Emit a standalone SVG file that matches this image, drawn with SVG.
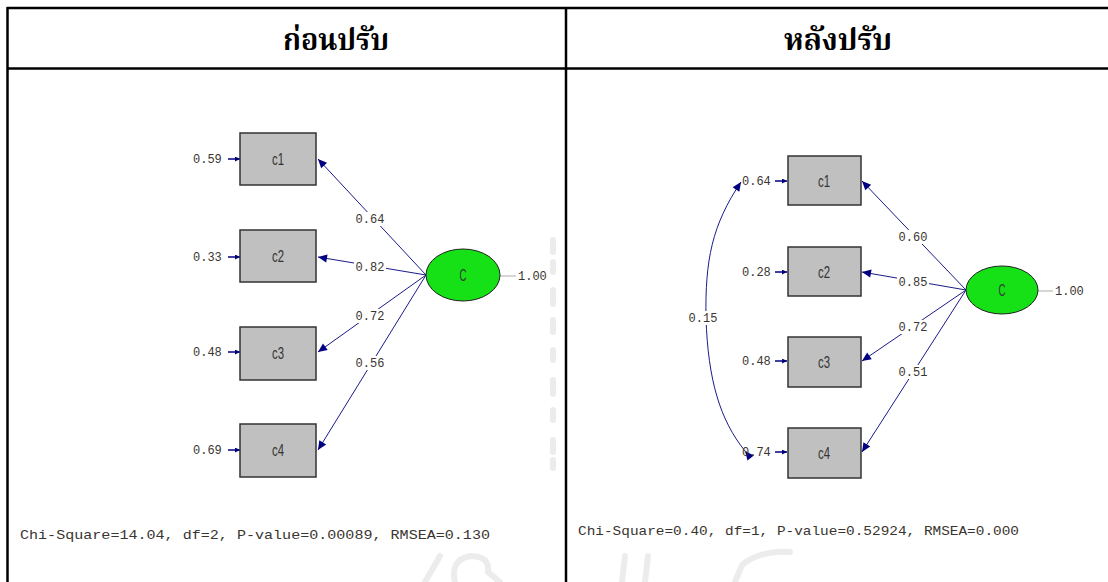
<svg xmlns="http://www.w3.org/2000/svg" width="1108" height="582" viewBox="0 0 1108 582">
<style>
.tb{stroke:#000;stroke-width:2.5;fill:none}
.hd{font-family:'Noto Serif Thai','Noto Sans Thai','Loma','Garuda','DejaVu Sans',sans-serif;font-weight:bold;font-size:31px;fill:#000;text-anchor:middle}
.box{fill:#c0c0c0;stroke:#333;stroke-width:1.5}
.ell{fill:#16e016;stroke:#222;stroke-width:1}
.bl{font-family:'Liberation Sans Narrow','Liberation Sans',sans-serif;font-size:17px;fill:#333;text-anchor:middle}
.num{font-family:'Liberation Mono',monospace;font-size:12px;fill:#3a3530}
.lnk{stroke:#1a1a8a;stroke-width:1;fill:none}
.err{stroke:#000080;stroke-width:1.5;fill:none}
.gl{stroke:#c8c8c8;stroke-width:1.5}
.lab{fill:#fff}
.fit{font-family:'Liberation Mono',monospace;font-size:13.5px;fill:#3a3530}
.wm{fill:none;stroke:#ececec;stroke-width:6;stroke-linecap:round}
</style>
<defs>
<marker id="ah" viewBox="0 0 10 10" refX="10" refY="5" markerWidth="11" markerHeight="9" markerUnits="userSpaceOnUse" orient="auto"><path d="M0,0.5 L10,5 L0,9.5 z" fill="#000080"/></marker>
<marker id="ahs" viewBox="0 0 10 10" refX="10" refY="5" markerWidth="6" markerHeight="5" markerUnits="userSpaceOnUse" orient="auto"><path d="M0,0 L10,5 L0,10 z" fill="#000080"/></marker>
</defs>
<rect width="1108" height="582" fill="#fff"/>
<g id="watermark">
<path class="wm" d="M553,240 v12 M553,262 v10 M553,290 v14 M553,320 v12 M553,350 v10 M553,380 v14 M553,410 v10 M553,440 v12 M553,460 v8"/>
<path class="wm" d="M425,582 L440,556 M455,582 Q450,560 470,556 Q490,556 488,572 L500,582"/>
<path class="wm" d="M622,582 L625,556 M648,556 L645,582"/>
<path class="wm" d="M735,582 L742,565 Q760,550 790,552"/>
</g>
<g id="table">
<line class="tb" x1="7" y1="8" x2="1108" y2="8"/>
<line class="tb" x1="7" y1="68.5" x2="1108" y2="68.5"/>
<line class="tb" x1="7.5" y1="7" x2="7.5" y2="582"/>
<line class="tb" x1="566" y1="7" x2="566" y2="582"/>
<text class="hd" x="336" y="50" textLength="106" lengthAdjust="spacingAndGlyphs">ก่อนปรับ</text>
<text class="hd" x="838" y="50" textLength="108" lengthAdjust="spacingAndGlyphs">หลังปรับ</text>
</g>
<g id="connectors">
<line class="lnk" x1="426" y1="275" x2="318" y2="159" marker-end="url(#ah)"/>
<line class="lnk" x1="426" y1="275" x2="318" y2="257" marker-end="url(#ah)"/>
<line class="lnk" x1="426" y1="275" x2="318" y2="352" marker-end="url(#ah)"/>
<line class="lnk" x1="426" y1="275" x2="318" y2="450" marker-end="url(#ah)"/>
<line class="gl" x1="500" y1="276" x2="516" y2="276"/>
<line class="err" x1="228" y1="159" x2="240" y2="159" marker-end="url(#ahs)"/>
<line class="err" x1="228" y1="257" x2="240" y2="257" marker-end="url(#ahs)"/>
<line class="err" x1="228" y1="352" x2="240" y2="352" marker-end="url(#ahs)"/>
<line class="err" x1="228" y1="450" x2="240" y2="450" marker-end="url(#ahs)"/>
<line class="lnk" x1="966" y1="290" x2="862" y2="181" marker-end="url(#ah)"/>
<line class="lnk" x1="966" y1="290" x2="862" y2="272" marker-end="url(#ah)"/>
<line class="lnk" x1="966" y1="290" x2="862" y2="361" marker-end="url(#ah)"/>
<line class="lnk" x1="966" y1="290" x2="862" y2="452" marker-end="url(#ah)"/>
<line class="gl" x1="1038" y1="291" x2="1053" y2="291"/>
<line class="err" x1="775" y1="181" x2="787" y2="181" marker-end="url(#ahs)"/>
<line class="err" x1="775" y1="272" x2="787" y2="272" marker-end="url(#ahs)"/>
<line class="err" x1="775" y1="361" x2="787" y2="361" marker-end="url(#ahs)"/>
<line class="err" x1="775" y1="452" x2="787" y2="452" marker-end="url(#ahs)"/>
<path class="lnk" d="M745,451 C720,420 708,380 706,318 C705,260 712,225 741,182" marker-start="url(#ah)" marker-end="url(#ah)"/>
</g>
<g id="labels">
<rect class="lab" x="354" y="212" width="32" height="14"/>
<text class="num" x="370" y="223" text-anchor="middle">0.64</text>
<rect class="lab" x="354" y="260" width="32" height="14"/>
<text class="num" x="370" y="271" text-anchor="middle">0.82</text>
<rect class="lab" x="354" y="309" width="32" height="14"/>
<text class="num" x="370" y="320" text-anchor="middle">0.72</text>
<rect class="lab" x="354" y="356" width="32" height="14"/>
<text class="num" x="370" y="367" text-anchor="middle">0.56</text>
<text class="num" x="518" y="280">1.00</text>
<rect class="lab" x="897" y="230" width="32" height="14"/>
<text class="num" x="913" y="241" text-anchor="middle">0.60</text>
<rect class="lab" x="897" y="275" width="32" height="14"/>
<text class="num" x="913" y="286" text-anchor="middle">0.85</text>
<rect class="lab" x="897" y="320" width="32" height="14"/>
<text class="num" x="913" y="331" text-anchor="middle">0.72</text>
<rect class="lab" x="897" y="365" width="32" height="14"/>
<text class="num" x="913" y="376" text-anchor="middle">0.51</text>
<text class="num" x="1055" y="295">1.00</text>
<rect class="lab" x="687" y="311" width="32" height="14"/>
<text class="num" x="703" y="322" text-anchor="middle">0.15</text>
</g>
<g id="left-c1"><rect class="box" x="240" y="133" width="76" height="52"/><text class="bl" x="278" y="165" textLength="12" lengthAdjust="spacingAndGlyphs">c1</text><text class="num" x="193" y="163">0.59</text></g>
<g id="left-c2"><rect class="box" x="240" y="230" width="76" height="52"/><text class="bl" x="278" y="262" textLength="12" lengthAdjust="spacingAndGlyphs">c2</text><text class="num" x="193" y="261">0.33</text></g>
<g id="left-c3"><rect class="box" x="240" y="327" width="76" height="53"/><text class="bl" x="278" y="359" textLength="12" lengthAdjust="spacingAndGlyphs">c3</text><text class="num" x="193" y="356">0.48</text></g>
<g id="left-c4"><rect class="box" x="240" y="424" width="76" height="53"/><text class="bl" x="278" y="456" textLength="12" lengthAdjust="spacingAndGlyphs">c4</text><text class="num" x="193" y="454">0.69</text></g>
<g id="left-C"><ellipse class="ell" cx="463" cy="275" rx="37" ry="26"/><text class="bl" x="463" y="281" textLength="7" lengthAdjust="spacingAndGlyphs">C</text></g>
<g id="right-c1"><rect class="box" x="788" y="156" width="73" height="49"/><text class="bl" x="824" y="187" textLength="12" lengthAdjust="spacingAndGlyphs">c1</text><text class="num" x="742" y="185">0.64</text></g>
<g id="right-c2"><rect class="box" x="788" y="247" width="73" height="49"/><text class="bl" x="824" y="278" textLength="12" lengthAdjust="spacingAndGlyphs">c2</text><text class="num" x="742" y="276">0.28</text></g>
<g id="right-c3"><rect class="box" x="788" y="337" width="73" height="50"/><text class="bl" x="824" y="368" textLength="12" lengthAdjust="spacingAndGlyphs">c3</text><text class="num" x="742" y="365">0.48</text></g>
<g id="right-c4"><rect class="box" x="788" y="428" width="73" height="50"/><text class="bl" x="824" y="459" textLength="12" lengthAdjust="spacingAndGlyphs">c4</text><text class="num" x="742" y="456">0.74</text></g>
<g id="right-C"><ellipse class="ell" cx="1002" cy="290" rx="36" ry="24"/><text class="bl" x="1002" y="296" textLength="7" lengthAdjust="spacingAndGlyphs">C</text></g>
<g id="fit">
<text class="fit" x="20" y="539" textLength="470" lengthAdjust="spacingAndGlyphs">Chi-Square=14.04, df=2, P-value=0.00089, RMSEA=0.130</text>
<text class="fit" x="578" y="535" textLength="441" lengthAdjust="spacingAndGlyphs">Chi-Square=0.40, df=1, P-value=0.52924, RMSEA=0.000</text>
</g>
</svg>
